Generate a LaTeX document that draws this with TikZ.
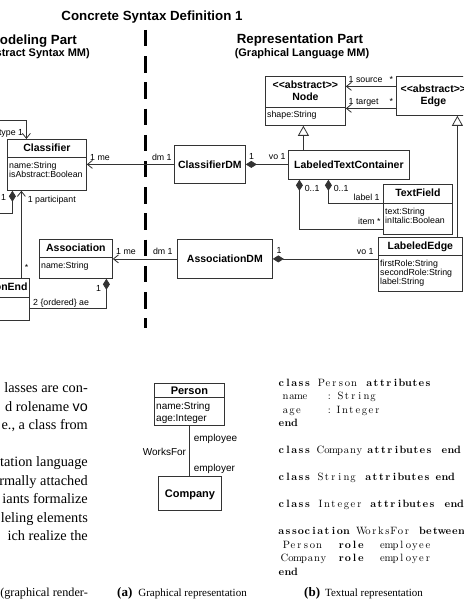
\documentclass[tikz,border=0pt]{standalone}
\usepackage{fontspec}
\usetikzlibrary{arrows.meta}

\newfontfamily\umlfont{Liberation Sans}
\newfontfamily\bodyfont{Liberation Serif}
\newfontfamily\codefont{lmroman10-regular.otf}[BoldFont=lmroman10-bold.otf]

% listing helpers: fixed-pitch word, keyword, word in a cell of given width
\newcommand{\fc}[1]{\fcloop#1\relax}
\def\fcloop#1{\ifx#1\relax\else\makebox[6.5pt]{#1}\expandafter\fcloop\fi}
\newcommand{\kw}[1]{\textbf{\fc{#1}}}
\newcommand{\cw}[2]{\makebox[#1pt][l]{#2}}

\begin{document}
\begin{tikzpicture}[x=1pt, y=-1pt,
  line/.style={draw=black!80, line width=0.8pt},
  classbox/.style={line, anchor=north west, inner sep=0pt, text height=7.6pt, text depth=0pt,
    font=\umlfont\bfseries\fontsize{10.5}{12}\selectfont},
  cname/.style={inner sep=0pt, text height=7.6pt, text depth=0pt,
    font=\umlfont\bfseries\fontsize{10.5}{12}\selectfont},
  stereo/.style={inner sep=0pt, align=center, font=\umlfont\bfseries\fontsize{10.5}{12}\selectfont},
  attr/.style={inner sep=0pt, anchor=north west, align=left, font=\umlfont\fontsize{8.8}{9}\selectfont},
  rolelbl/.style={inner sep=0pt, font=\umlfont\fontsize{8.8}{10}\selectfont},
  smallclass/.style={classbox, text height=8pt, font=\umlfont\bfseries\fontsize{11}{13}\selectfont},
  smallattr/.style={attr, font=\umlfont\fontsize{10}{12}\selectfont},
  smalllbl/.style={rolelbl, font=\umlfont\fontsize{10}{12}\selectfont},
  nav/.style={line, -{Straight Barb[length=5pt,width=8pt]}},
  compos/.style={line, {Diamond[length=11pt,width=7pt]}-},
  inherit/.style={line, -{Triangle[open,length=10pt,width=11pt]}},
  separator/.style={line width=3pt, dash pattern=on 16.5pt off 9.7pt},
  heading/.style={inner sep=0pt, font=\umlfont\bfseries\fontsize{13.3}{15}\selectfont},
  subheading/.style={inner sep=0pt, font=\umlfont\bfseries\fontsize{11}{13}\selectfont},
  bodyline/.style={inner sep=0pt, anchor=base east, font=\bodyfont\fontsize{14.3}{18.5}\selectfont},
  codeline/.style={inner sep=0pt, anchor=base west, font=\codefont\fontsize{10.6}{13.5}\selectfont},
  caption/.style={inner sep=0pt, anchor=base west, font=\bodyfont\fontsize{11}{13}\selectfont}]
\useasboundingbox (0,0) rectangle (463,609);
\clip (0,0) rectangle (463,609);

% Headings
\node[heading, anchor=base] (title) at (152,21) {Concrete Syntax Definition 1};
\node[heading, anchor=base east] (modeling) at (77,45) {Modeling Part};
\node[subheading, anchor=base east] (modelingmm) at (90,57) {(Abstract Syntax MM)};
\node[heading, anchor=base] (representation) at (300,44) {Representation Part};
\node[subheading, anchor=base] (representationmm) at (302,57) {(Graphical Language MM)};

% Separator between the two parts
\draw[separator] (145,30) -- (145,328);

% Modeling part
\node[classbox, minimum width=79pt, minimum height=51pt] (classifier) at (7,139) {};
\node[cname] (classifiername) at ([yshift=-9pt]classifier.north) {Classifier};
\draw[line] ([yshift=-18pt]classifier.north west) -- ([yshift=-18pt]classifier.north east);
\node[attr] (classifierattr) at ([xshift=2pt,yshift=-22.5pt]classifier.north west) {name:String\\isAbstract:Boolean};

\node[classbox, minimum width=73pt, minimum height=39pt] (association) at (39,239) {};
\node[cname] (associationname) at ([yshift=-9pt]association.north) {Association};
\draw[line] ([yshift=-18pt]association.north west) -- ([yshift=-18pt]association.north east);
\node[attr] (associationattr) at ([xshift=2pt,yshift=-22.5pt]association.north west) {name:String};

\node[classbox, minimum width=83pt, minimum height=42pt] (assocend) at (-54,278) {};
\node[cname] (assocendname) at ([yshift=-9pt]assocend.north) {AssociationEnd};
\draw[line] ([yshift=-19pt]assocend.north west) -- ([yshift=-19pt]assocend.north east);

% Representation part
\node[classbox, minimum width=80pt, minimum height=49pt] (nodecls) at (265,76) {};
\node[stereo] (nodename) at ([yshift=-15pt]nodecls.north) {<\kern0pt<abstract>\kern0pt>\\Node};
\draw[line] ([yshift=-31pt]nodecls.north west) -- ([yshift=-31pt]nodecls.north east);
\node[attr] (nodeattr) at ([xshift=2pt,yshift=-35pt]nodecls.north west) {shape:String};

\node[classbox, minimum width=74pt, minimum height=39pt] (edgecls) at (396,76) {};
\node[stereo] (edgename) at ([yshift=-20pt]edgecls.north) {<\kern0pt<abstract>\kern0pt>\\Edge};

\node[classbox, minimum width=71pt, minimum height=38pt] (classifierdm) at (174,145) {ClassifierDM};
\node[classbox, minimum width=95pt, minimum height=39pt] (associationdm) at (177,239) {AssociationDM};
\node[classbox, minimum width=121pt, minimum height=29pt] (ltc) at (288,150) {LabeledTextContainer};

\node[classbox, minimum width=69pt, minimum height=50pt] (textfield) at (383,184) {};
\node[cname] (textfieldname) at ([yshift=-9pt]textfield.north) {TextField};
\draw[line] ([yshift=-19pt]textfield.north west) -- ([yshift=-19pt]textfield.north east);
\node[attr] (textfieldattr) at ([xshift=2pt,yshift=-23.5pt]textfield.north west) {text:String\\inItalic:Boolean};

\node[classbox, minimum width=84pt, minimum height=54pt] (labelededge) at (378,237) {};
\node[cname] (labelededgename) at ([yshift=-9pt]labelededge.north) {LabeledEdge};
\draw[line] ([yshift=-18pt]labelededge.north west) -- ([yshift=-18pt]labelededge.north east);
\node[attr] (labelededgeattr) at ([xshift=2pt,yshift=-22.5pt]labelededge.north west) {firstRole:String\\secondRole:String\\label:String};

% Connectors of the modeling part
\coordinate (typein) at (-5,120);
\coordinate (ownerout) at (-5,213);
\draw[nav] (typein) -| ([xshift=-20.5pt]classifier.north)
  node[rolelbl, at end, anchor=base east, xshift=-3pt, yshift=3.5pt] (typelbl) {type 1};
\draw[compos] ([xshift=-34.5pt]classifier.south)
  node[rolelbl, anchor=base east, xshift=-6pt, yshift=-10pt] (ownerlbl) {1} |- (ownerout);
\draw[nav] ([xshift=33.5pt]assocend.north) -- ([xshift=-25.5pt]classifier.south)
  node[rolelbl, at start, anchor=base west, xshift=3pt, yshift=8pt] (endmult) {*}
  node[rolelbl, at end, anchor=base west, xshift=6pt, yshift=-11.5pt] (participantlbl) {1 participant};
\draw[compos] ([xshift=30.5pt]association.south)
  node[rolelbl, anchor=base east, xshift=-5pt, yshift=-12.5pt] (aemult) {1} |- ([yshift=-9pt]assocend.east)
  node[rolelbl, at end, anchor=base west, xshift=3pt, yshift=2.5pt] (aelbl) {2 \{ordered\} ae};

% Connectors across the separator
\draw[nav] (classifierdm.west) -- (classifierdm.west -| classifier.east)
  node[rolelbl, at start, anchor=base east, xshift=-2pt, yshift=4pt] (cdmlbl) {dm 1}
  node[rolelbl, at end, anchor=base west, xshift=3pt, yshift=4pt] (cmelbl) {1 me};
\draw[nav] (associationdm.west) -- (associationdm.west -| association.east)
  node[rolelbl, at start, anchor=base east, xshift=-4pt, yshift=4pt] (admlbl) {dm 1}
  node[rolelbl, at end, anchor=base west, xshift=3pt, yshift=4pt] (amelbl) {1 me};

% Connectors of the representation part
\draw[compos] (classifierdm.east) -- (classifierdm.east -| ltc.west)
  node[rolelbl, at start, anchor=base west, xshift=3pt, yshift=5pt] (cvomult) {1}
  node[rolelbl, at end, anchor=base east, xshift=-2pt, yshift=4.5pt] (cvolbl) {vo 1};
\draw[compos] (associationdm.east) -- (associationdm.east -| labelededge.west)
  node[rolelbl, at start, anchor=base west, xshift=3.5pt, yshift=5pt] (avomult) {1}
  node[rolelbl, at end, anchor=base east, xshift=-4pt, yshift=4.5pt] (avolbl) {vo 1};
\draw[inherit] ([xshift=-45.5pt]ltc.north) -- ([xshift=-45.5pt]ltc.north |- nodecls.south);
\draw[inherit] ([xshift=37pt]labelededge.north) -- ([xshift=37pt]labelededge.north |- edgecls.south);
\draw[nav] ([yshift=9.5pt]edgecls.west) -- ([yshift=9.5pt]edgecls.west -| nodecls.east)
  node[rolelbl, at start, anchor=base east, xshift=-2.5pt, yshift=4pt] (sourcemult) {*}
  node[rolelbl, at end, anchor=base west, xshift=2.5pt, yshift=3.5pt] (sourcelbl) {1 source};
\draw[nav] ([yshift=-12.5pt]edgecls.west) -- ([yshift=-12.5pt]edgecls.west -| nodecls.east)
  node[rolelbl, at start, anchor=base east, xshift=-2.5pt, yshift=4pt] (targetmult) {*}
  node[rolelbl, at end, anchor=base west, xshift=2.5pt, yshift=3.5pt] (targetlbl) {1 target};
\draw[compos] ([xshift=-20.5pt]ltc.south)
  node[rolelbl, anchor=base west, xshift=5pt, yshift=-11.5pt] (labelmult) {0..1} |- ([yshift=6pt]textfield.west)
  node[rolelbl, at end, anchor=base east, xshift=-3pt, yshift=2.5pt] (labellbl) {label 1};
\draw[compos] ([xshift=-49.5pt]ltc.south)
  node[rolelbl, anchor=base west, xshift=5pt, yshift=-11.5pt] (itemmult) {0..1} |- ([yshift=-20pt]textfield.west)
  node[rolelbl, at end, anchor=base east, xshift=-2pt, yshift=5pt] (itemlbl) {item *};

% Running text, cut at the left border
\node[bodyline] (body1) at (88,392.5) {lasses are con-};
\node[bodyline] (body2) at (88,411) {d rolename {\umlfont vo}};
\node[bodyline] (body3) at (88,429.5) {e., a class from};
\node[bodyline] (body4) at (88,466.5) {tation language};
\node[bodyline] (body5) at (88,485) {rmally attached};
\node[bodyline] (body6) at (88,503.5) {iants formalize};
\node[bodyline] (body7) at (88,522) {leling elements};
\node[bodyline] (body8) at (88,540.5) {ich realize the};
\node[bodyline, font=\bodyfont\fontsize{12.2}{14}\selectfont] (body9) at (88,596.5) {(graphical render-};

% (a) Graphical representation
\node[smallclass, minimum width=70pt, minimum height=42pt] (person) at (154,383) {};
\node[cname, text height=8pt, font=\umlfont\bfseries\fontsize{11}{13}\selectfont] (personname) at ([yshift=-7pt]person.north) {Person};
\draw[line] ([yshift=-14pt]person.north west) -- ([yshift=-14pt]person.north east);
\node[smallattr] (personattr) at ([xshift=2pt,yshift=-18.7pt]person.north west) {name:String\\age:Integer};
\node[smallclass, minimum width=63pt, minimum height=34pt] (company) at (158,476) {Company};
\draw[line] (person.south) -- (person.south |- company.north)
  node[smalllbl, at start, anchor=base west, xshift=4pt, yshift=-15.5pt] (employeelbl) {employee}
  node[smalllbl, pos=0.5, anchor=base east, xshift=-3pt, yshift=-5pt] (worksforlbl) {WorksFor}
  node[smalllbl, at end, anchor=base west, xshift=4pt, yshift=4.5pt] (employerlbl) {employer};
\node[caption] (captiona) at (117,596.5) {{\bfseries\fontsize{13}{15}\selectfont (a)}\hspace{6pt}Graphical representation};

% (b) Textual representation
\node[codeline] (code1) at (278,386) {\cw{40}{\kw{class}}\cw{48}{\fc{Person}}\kw{attributes}};
\node[codeline] (code2) at (278,399.5) {\hspace*{4pt}\cw{44}{\fc{name}}\cw{11}{\fc{:}}\fc{String}};
\node[codeline] (code3) at (278,413) {\hspace*{4pt}\cw{44}{\fc{age}}\cw{9}{\fc{:}}\fc{Integer}};
\node[codeline] (code4) at (278,426.5) {\kw{end}};
\node[codeline] (code5) at (278,453.5) {\cw{39}{\kw{class}}\cw{50}{\fc{Company}}\cw{74}{\kw{attributes}}\kw{end}};
\node[codeline] (code6) at (278,480.5) {\cw{39}{\kw{class}}\cw{48}{\fc{String}}\cw{70}{\kw{attributes}}\kw{end}};
\node[codeline] (code7) at (278,507.5) {\cw{39}{\kw{class}}\cw{53}{\fc{Integer}}\cw{74}{\kw{attributes}}\kw{end}};
\node[codeline] (code8) at (278,534.5) {\cw{80}{\kw{association}}\cw{61}{\fc{WorksFor}}\kw{between}};
\node[codeline] (code9) at (278,548) {\hspace*{5pt}\cw{55}{\fc{Person}}\cw{41}{\kw{role}}\fc{employee}};
\node[codeline] (code10) at (278,561.5) {\hspace*{3pt}\cw{57}{\fc{Company}}\cw{41}{\kw{role}}\fc{employer}};
\node[codeline] (code11) at (278,575) {\kw{end}};
\node[caption] (captionb) at (304,596.5) {{\bfseries\fontsize{13}{15}\selectfont (b)}\hspace{5pt}Textual representation};
\end{tikzpicture}
\end{document}
